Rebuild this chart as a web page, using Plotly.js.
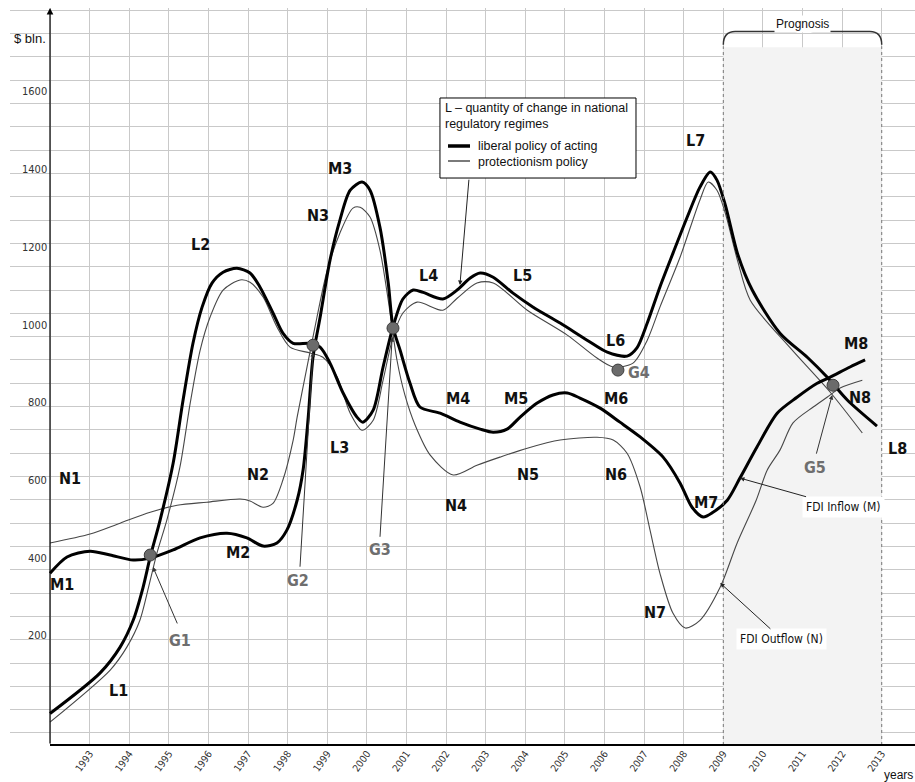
<!DOCTYPE html>
<html>
<head>
<meta charset="utf-8">
<script src="https://cdn.plot.ly/plotly-3.0.1.min.js"></script>
<style>html,body{margin:0;padding:0;background:#fff;}#chart{width:915px;height:782px;}</style>
</head>
<body>
<div id="chart"></div>
<script>
// ---------------- data ----------------
const tickYears = [1993,1994,1995,1996,1997,1998,1999,2000,2001,2002,2003,2004,2005,2006,2007,2008,2009,2010,2011,2012,2013];
const tickYearLabels = ['1993','1994','1995','1996','1997','1998','1999','2000','2001','2002','2003','2004','2005','2006','2007','2008','2009','2010','2011','2012','2013'];
const yTickValues = [200,400,600,800,1000,1200,1400,1600];
const yTickLabels = ['200','400','600','800','1000','1200','1400','1600'];

// L – liberal policy of acting (thick)
const libYears = [1992.0,1993.26,1993.77,1994.10,1994.35,1994.53,1994.78,1995.11,1995.36,1995.61,1995.84,1996.09,1996.37,1996.72,1997.05,1997.30,1997.63,1997.88,1998.14,1998.57,1998.82,1999.07,1999.40,1999.75,1999.90,2000.16,2000.41,2000.66,2000.91,2001.17,2001.42,2001.92,2002.28,2002.61,2002.86,2003.19,2003.69,2004.20,2004.88,2005.56,2006.07,2006.57,2006.82,2007.08,2007.40,2007.73,2008.09,2008.41,2008.67,2008.84,2009.05,2009.37,2009.73,2010.43,2011.12,2011.62,2012.13,2012.88];
const libValues = [0,104,171,240,325,403,498,645,807,953,1046,1108,1136,1146,1134,1098,1031,979,953,953,943,902,825,763,750,781,892,995,1067,1090,1084,1067,1090,1121,1134,1123,1082,1046,1005,961,930,920,941,1005,1098,1185,1278,1355,1394,1373,1309,1180,1090,979,917,866,807,740];

// L – protectionism policy (thin)
const protYears = [1992.0,1993.52,1993.94,1994.27,1994.53,1994.70,1994.95,1995.28,1995.54,1995.79,1996.04,1996.37,1996.80,1997.05,1997.38,1997.73,1998.06,1998.57,1998.89,1999.25,1999.58,1999.88,2000.16,2000.41,2000.66,2000.91,2001.27,2001.92,2002.28,2002.78,2003.19,2004.05,2005.06,2005.81,2006.22,2006.72,2007.08,2007.40,2007.91,2008.41,2008.62,2008.84,2009.05,2009.37,2009.68,2010.69,2011.70,2012.51];
const protValues = [-22,112,171,240,343,413,498,634,799,935,1020,1090,1116,1110,1072,995,943,928,917,866,773,729,755,858,969,1031,1059,1038,1069,1108,1108,1038,974,915,892,902,961,1046,1175,1322,1368,1347,1288,1162,1064,941,827,722];

// M – FDI inflow (thick)
const inflowYears = [1992.0,1992.43,1993.01,1993.52,1994.10,1994.53,1995.11,1995.79,1996.47,1996.97,1997.38,1997.73,1997.98,1998.24,1998.39,1998.52,1998.64,1998.82,1999.07,1999.32,1999.58,1999.88,2000.08,2000.33,2000.54,2000.66,2000.84,2001.09,2001.34,2001.85,2002.35,2002.86,2003.19,2003.54,2003.87,2004.30,2004.70,2005.06,2005.38,2005.89,2006.39,2006.90,2007.48,2007.91,2008.21,2008.49,2008.74,2009.10,2009.42,2009.85,2010.36,2010.86,2011.37,2011.70,2012.20,2012.58];
const inflowValues = [361,403,418,408,395,400,421,452,464,452,431,439,472,549,627,763,917,1020,1167,1270,1347,1368,1347,1252,1108,995,935,850,789,773,750,732,724,732,763,799,820,825,812,786,750,712,660,593,531,506,518,549,606,686,773,814,850,866,892,910];

// N – FDI outflow (thin)
const outflowYears = [1992.0,1993.01,1993.77,1994.53,1995.21,1995.96,1996.80,1997.05,1997.38,1997.63,1997.88,1998.14,1998.24,1998.49,1998.74,1999.0,1999.32,1999.65,1999.83,2000.08,2000.33,2000.54,2000.76,2000.96,2001.22,2001.60,2002.18,2002.78,2003.36,2004.05,2004.88,2005.81,2006.22,2006.57,2006.90,2007.15,2007.40,2007.73,2008.04,2008.41,2008.92,2009.35,2009.83,2010.11,2010.43,2010.76,2011.27,2011.62,2011.95,2012.51];
const outflowValues = [439,462,490,518,536,544,552,547,531,541,601,704,763,892,1020,1141,1237,1301,1303,1278,1193,1064,910,820,742,665,614,639,660,683,704,711,704,670,583,472,361,258,220,240,325,439,549,627,678,748,789,814,838,858];

// G – crossing points
const gNames = ['G1','G2','G3','G4','G5'];
const gYears = [1994.53,1998.64,2000.66,2006.34,2011.77];
const gValues = [408,948,992,884,845];

// prognosis period
const prognosisYears = [2009, 2013];

// ---------------- styling / layout ----------------
const xMin = 1990.99, xMax = 2013.84;
const yMin = -81, yMax = 1816, shadeTop = 1715;
const NARROW = '"Liberation Sans Narrow","Arial Narrow","DejaVu Sans Condensed",sans-serif';
const SANS = '"Liberation Sans",Arial,sans-serif';
const GRID = '#c9c9c9';
const THIN = '#474747';
const p0 = prognosisYears[0], p1 = prognosisYears[1];

const traces = [
  {x:[p0,p1,p1,p0,p0], y:[yMin,yMin,shadeTop,shadeTop,yMin], type:'scatter', mode:'lines', fill:'toself',
   fillcolor:'#f3f3f3', line:{width:0, color:'rgba(0,0,0,0)'}, showlegend:false, hoverinfo:'skip'},
  {x: protYears, y: protValues, type:'scatter', mode:'lines', name:'protectionism policy', showlegend:false,
   line:{color:THIN, width:1.1, shape:'spline', smoothing:0.8}, hoverinfo:'skip'},
  {x: outflowYears, y: outflowValues, type:'scatter', mode:'lines', name:'FDI Outflow (N)', showlegend:false,
   line:{color:THIN, width:1.1, shape:'spline', smoothing:0.8}, hoverinfo:'skip'},
  {x: libYears, y: libValues, type:'scatter', mode:'lines', name:'liberal policy of acting', showlegend:false,
   line:{color:'#000', width:3, shape:'spline', smoothing:0.8}, hoverinfo:'skip'},
  {x: inflowYears, y: inflowValues, type:'scatter', mode:'lines', name:'FDI Inflow (M)', showlegend:false,
   line:{color:'#000', width:3, shape:'spline', smoothing:0.8}, hoverinfo:'skip'},
  {x: gYears, y: gValues, type:'scatter', mode:'markers', showlegend:false, hoverinfo:'skip',
   marker:{size:12, color:'#6b6b6b', line:{color:'#3c3c3c', width:1}}}
];

// curve labels: [text, year, value]
const curveLabels = [
  ['L1',1993.72,60],['L2',1995.79,1206],['L3',1999.32,686],['L4',2001.55,1128],['L5',2003.92,1128],
  ['L6',2006.29,961],['L7',2008.31,1476],['L8',2013.41,683],
  ['M1',1992.30,331],['M2',1996.75,415],['M3',1999.32,1404],['M4',2002.30,812],['M5',2003.77,812],
  ['M6',2006.29,812],['M7',2008.57,542],['M8',2012.35,953],
  ['N1',1992.51,606],['N2',1997.25,614],['N3',1998.77,1283],['N4',2002.25,536],['N5',2004.07,614],
  ['N6',2006.29,614],['N7',2007.28,261],['N8',2012.45,814]
];
const gLabelPos = [[1995.28,189],[1998.26,343],[2000.33,421],[2006.88,879],[2011.32,632]];
const gPointers = [[1995.23,228,1994.60,377],[1998.31,374,1998.64,930],[2000.33,451,2000.64,969],null,[2011.34,665,2011.75,820]];

const annotations = [];
// y tick labels
yTickValues.forEach((v,i) => annotations.push({
  x:40/905, y:v, xref:'paper', yref:'y', xanchor:'right', yanchor:'middle', xshift:-1,
  text:yTickLabels[i], showarrow:false, font:{family:NARROW, size:11, color:'#333'}
}));
curveLabels.forEach(([t,x,y]) => annotations.push({
  x, y, xref:'x', yref:'y', text:t, showarrow:false,
  font:{family:NARROW, size:16, color:'#111', weight:'bold'}
}));
gNames.forEach((t,i) => annotations.push({
  x: gLabelPos[i][0], y: gLabelPos[i][1], xref:'x', yref:'y', text:t, showarrow:false,
  font:{family:NARROW, size:16, color:'#6e6e6e', weight:'bold'}
}));
gPointers.forEach(p => { if(!p) return; annotations.push({
  x:p[2], y:p[3], ax:p[0], ay:p[1], xref:'x', yref:'y', axref:'x', ayref:'y', text:'',
  showarrow:true, arrowhead:2, arrowsize:0.9, arrowwidth:1, arrowcolor:'#333', standoff:0
}); });
// legend pointer
annotations.push({x:2002.35, y:1103, ax:2002.58, ay:1378, xref:'x', yref:'y', axref:'x', ayref:'y', text:'',
  showarrow:true, arrowhead:2, arrowsize:0.9, arrowwidth:1, arrowcolor:'#222', standoff:0});
// FDI labels
annotations.push({x:2009.42, y:606, ax:2012.03, ay:531, xref:'x', yref:'y', axref:'x', ayref:'y',
  text:'FDI Inflow (M)', showarrow:true, arrowhead:2, arrowsize:0.9, arrowwidth:1, arrowcolor:'#222',
  bgcolor:'#fff', borderpad:3, font:{family:NARROW, size:12, color:'#111'}});
annotations.push({x:2008.92, y:336, ax:2010.48, ay:191, xref:'x', yref:'y', axref:'x', ayref:'y',
  text:'FDI Outflow (N)', showarrow:true, arrowhead:2, arrowsize:0.9, arrowwidth:1, arrowcolor:'#222',
  bgcolor:'#fff', borderpad:3, font:{family:NARROW, size:12, color:'#111'}});
// axis texts
annotations.push({x:0.002, y:0.959, xref:'paper', yref:'paper', xanchor:'left', yanchor:'middle',
  text:'$ bln.', showarrow:false, font:{family:SANS, size:13, color:'#111'}});
annotations.push({x:1, y:-0.041, xref:'paper', yref:'paper', xanchor:'right', yanchor:'middle',
  text:'years', showarrow:false, font:{family:SANS, size:12, color:'#111'}});
annotations.push({x:(p0+p1)/2, y:0.9905, xref:'x', yref:'paper',
  text:'Prognosis', showarrow:false, bgcolor:'#fff', borderpad:1, font:{family:SANS, size:12, color:'#111'}});
// y axis arrow
annotations.push({x:1992, y:1, xref:'x', yref:'paper', ax:0, ay:737, axref:'pixel', ayref:'pixel',
  text:'', showarrow:true, arrowhead:2, arrowsize:1.1, arrowwidth:1.2, arrowcolor:'#000', standoff:0});

// custom legend box
const LG = {x0:0.4751, x1:0.6917, y0:0.7693, y1:0.8779};
const pxX = px => (px-10)/905, pxY = py => (745-py)/737;
annotations.push({x:pxX(443), y:pxY(99), xref:'paper', yref:'paper', xanchor:'left', yanchor:'top', align:'left',
  text:'L – quantity of change in national<br>regulatory regimes', showarrow:false, font:{family:SANS, size:12.5, color:'#111'}});
annotations.push({x:pxX(476), y:pxY(153.5), xref:'paper', yref:'paper', xanchor:'left', yanchor:'middle', align:'left',
  text:'liberal policy of acting<br>protectionism policy', showarrow:false, font:{family:SANS, size:12.5, color:'#111'}});

const pm = (p0+p1)/2 + 0.04;
const braceTop = 0.968, braceEnd = 0.950, braceTip = 0.976;
const bracePath = `M ${p0},${braceEnd} Q ${p0},${braceTop} ${p0+0.3},${braceTop} L ${pm-0.3},${braceTop} ` +
  `Q ${pm},${braceTop} ${pm},${braceTip} Q ${pm},${braceTop} ${pm+0.3},${braceTop} L ${p1-0.3},${braceTop} ` +
  `Q ${p1},${braceTop} ${p1},${braceEnd}`;

const shapes = [
  {type:'line', xref:'x', yref:'paper', x0:p0, x1:p0, y0:0, y1:0.948, line:{color:'#777', width:1, dash:'dot'}},
  {type:'line', xref:'x', yref:'paper', x0:p1, x1:p1, y0:0, y1:0.948, line:{color:'#777', width:1, dash:'dot'}},
  {type:'path', xref:'x', yref:'paper', path:bracePath, line:{color:'#333', width:1.5}},
  {type:'line', xref:'x', yref:'paper', x0:1992, x1:xMax, y0:0, y1:0, line:{color:'#000', width:2.2}},
  {type:'rect', xref:'paper', yref:'paper', x0:LG.x0, x1:LG.x1, y0:LG.y0, y1:LG.y1, fillcolor:'#fff', line:{color:'#000', width:1}},
  {type:'line', xref:'paper', yref:'paper', x0:pxX(448), x1:pxX(470), y0:pxY(146), y1:pxY(146), line:{color:'#000', width:3.5}},
  {type:'line', xref:'paper', yref:'paper', x0:pxX(448), x1:pxX(470), y0:pxY(161), y1:pxY(161), line:{color:'#222', width:1.2}}
];

const layout = {
  width:915, height:782,
  margin:{l:10, r:0, t:8, b:37},
  paper_bgcolor:'#fff', plot_bgcolor:'#fff',
  showlegend:false,
  xaxis:{range:[xMin,xMax], tickmode:'array', tickvals:[1991,1992].concat(tickYears), ticktext:['',''].concat(tickYearLabels),
    tickangle:-55, showgrid:true, gridcolor:GRID, gridwidth:1, zeroline:false, showline:false, ticks:'',
    tickfont:{family:NARROW, size:10, color:'#333'}, fixedrange:true},
  yaxis:{range:[yMin,yMax], tickmode:'linear', tick0:10, dtick:60, showticklabels:false, showgrid:true,
    gridcolor:GRID, gridwidth:1, zeroline:false, showline:false, ticks:'', fixedrange:true},
  shapes, annotations
};

Plotly.newPlot('chart', traces, layout, {staticPlot:true, displayModeBar:false});
</script>
</body>
</html>
